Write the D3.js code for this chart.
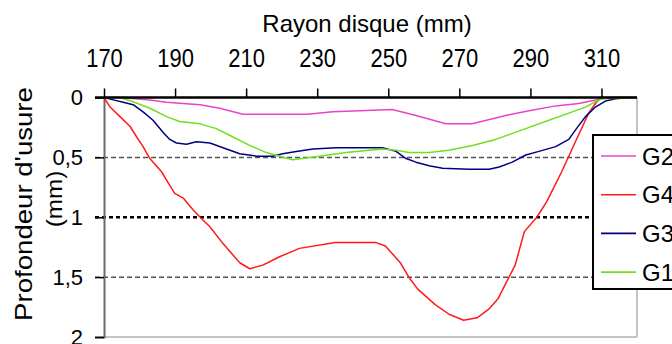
<!DOCTYPE html>
<html>
<head>
<meta charset="utf-8">
<script src="https://cdn.jsdelivr.net/npm/d3@7"></script>
<style>
  body { margin: 0; background: #fff; }
  svg { display: block; font-family: Arial, "Liberation Sans", sans-serif; }
</style>
</head>
<body>
<div id="chart"></div>
<script>
// DATA (rayon disque en mm, profondeur d'usure en mm)
const seriesNames = ["G2", "G4", "G3", "G1"];
const seriesColors = ["#e844c8", "#ff1a1a", "#000080", "#6ee01e"];

const g2 = [[170,0],[174.5,0],[182.9,0.02],[187.6,0.04],[197,0.06],[202.6,0.09],[209.1,0.14],
  [227.3,0.14],[234.3,0.12],[241.9,0.11],[251.1,0.10],[257.8,0.15],[266.2,0.22],[270,0.22],
  [273.6,0.22],[283.1,0.15],[289.6,0.11],[297.1,0.07],[303.6,0.05],[310.1,0.01],[312,0],[320,0]];

const g4 = [[170,0],[171.7,0.08],[174.5,0.16],[177.3,0.24],[179.2,0.33],[181,0.41],[182.9,0.51],
  [186.2,0.62],[187.6,0.69],[189.9,0.8],[192.3,0.84],[195.1,0.94],[197.4,1.01],[199.8,1.08],
  [203.5,1.22],[208.2,1.38],[211,1.43],[214.7,1.4],[219.4,1.33],[225,1.26],[235.1,1.21],
  [246.4,1.21],[249.2,1.24],[253.4,1.38],[256,1.51],[258.3,1.6],[263.2,1.73],[267.1,1.81],
  [271.2,1.86],[275,1.84],[278.2,1.77],[280.9,1.68],[283.8,1.51],[285.7,1.4],[288.3,1.12],
  [291.8,1.0],[294.6,0.87],[298.8,0.62],[303.9,0.29],[306.4,0.13],[308.3,0.05],[309.8,0],[320,0]];

const g3 = [[170,0],[172.6,0.02],[175.4,0.04],[178.2,0.06],[181,0.12],[183.8,0.19],[186.6,0.29],
  [188.5,0.35],[190.4,0.38],[193.2,0.39],[196,0.37],[199.8,0.38],[203.5,0.42],[208.2,0.47],
  [212.9,0.49],[217.5,0.49],[220.3,0.47],[224.1,0.45],[228.8,0.43],[235.3,0.42],[248.4,0.42],
  [252.2,0.45],[255,0.51],[257.8,0.54],[261.5,0.57],[265.3,0.59],[272.8,0.6],[278.4,0.6],
  [281.2,0.58],[284.9,0.54],[288.7,0.48],[292.4,0.45],[297.1,0.41],[300.8,0.35],[302.7,0.27],
  [305.5,0.16],[308.3,0.08],[311.1,0.03],[313.9,0.01],[318.2,0]];

const g1 = [[170,0],[174.5,0],[178.2,0.035],[182.9,0.09],[187.6,0.16],[191.3,0.2],[197,0.22],
  [201.6,0.26],[206.3,0.33],[211,0.4],[215.7,0.46],[219.4,0.49],[223.1,0.52],[230.6,0.49],
  [238.1,0.46],[248.4,0.43],[252.2,0.44],[255.9,0.46],[261.5,0.46],[267.1,0.44],[273.7,0.4],
  [280.2,0.35],[287.7,0.27],[295.2,0.19],[301.8,0.12],[305.5,0.08],[308.3,0.035],[310.2,0.01],[320,0]];

const seriesData = [g2, g4, g3, g1];
const xTicks = [170, 190, 210, 230, 250, 270, 290, 310];
const yTicks = [0, 0.5, 1, 1.5, 2];
const gridValues = [0.5, 1, 1.5];

// LAYOUT
const W = 672, H = 344;
const plotLeft = 104, plotRight = 637, plotTop = 97.5, plotBottom = 337;

const svg = d3.select("#chart").append("svg")
  .attr("width", W).attr("height", H);

const x = d3.scaleLinear().domain([170, 320]).range([plotLeft, plotRight]);
const y = d3.scaleLinear().domain([0, 2]).range([plotTop, plotBottom]);

// plot frame (light grey right / bottom)
svg.append("line").attr("x1", plotLeft).attr("x2", plotRight).attr("y1", plotBottom).attr("y2", plotBottom)
  .attr("stroke", "#c4c4c4").attr("stroke-width", 2);
svg.append("line").attr("x1", plotRight).attr("x2", plotRight).attr("y1", plotTop).attr("y2", plotBottom)
  .attr("stroke", "#c4c4c4").attr("stroke-width", 2);

// gridlines
svg.selectAll(".grid").data(gridValues).join("line")
  .attr("x1", 95).attr("x2", plotRight)
  .attr("y1", d => y(d)).attr("y2", d => y(d))
  .attr("stroke", d => d === 1 ? "#000" : "#555")
  .attr("stroke-width", d => d === 1 ? 2.5 : 1.5)
  .attr("stroke-dasharray", d => d === 1 ? "4,3" : "5,3");

// y axis
const yAxis = svg.append("g").attr("transform", `translate(${plotLeft},0)`)
  .call(d3.axisLeft(y).tickValues(yTicks).tickSize(9).tickPadding(12)
    .tickFormat(d => String(d).replace(".", ",")));
yAxis.select(".domain").attr("stroke", "#6a6a6a").attr("stroke-width", 2);
yAxis.selectAll(".tick line").attr("stroke", "#000").attr("stroke-width", 1.5);
yAxis.selectAll(".tick text").attr("font-size", 22).attr("fill", "#000")
  .attr("font-family", "Arial, 'Liberation Sans', sans-serif");

// series
const line = d3.line().x(d => x(d[0])).y(d => y(d[1]));
svg.selectAll(".serie").data(seriesData).join("path")
  .attr("d", line)
  .attr("fill", "none")
  .attr("stroke", (d, i) => seriesColors[i])
  .attr("stroke-width", 1.5)
  .attr("stroke-linejoin", "round");

// x axis on top
const xAxis = svg.append("g").attr("transform", `translate(0,${plotTop})`)
  .call(d3.axisTop(x).tickValues(xTicks).tickSize(9).tickSizeOuter(0).tickPadding(12));
xAxis.select(".domain").attr("d", `M95,0H${plotRight}`).attr("stroke", "#000").attr("stroke-width", 2.5);
xAxis.selectAll(".tick line").attr("stroke", "#000").attr("stroke-width", 1.5);
xAxis.selectAll(".tick text")
  .attr("font-size", 22).attr("fill", "#000")
  .attr("font-family", "Arial, 'Liberation Sans', sans-serif")
  .attr("y", 0).attr("dy", 0)
  .attr("transform", "translate(0,-31) scale(1,1.2)");

// titles
svg.append("text").attr("x", 367).attr("y", 31.5)
  .attr("text-anchor", "middle").attr("font-size", 24)
  .text("Rayon disque (mm)");

svg.append("text")
  .attr("transform", "translate(32,204) rotate(-90) scale(1.2,1)")
  .attr("text-anchor", "middle").attr("font-size", 23)
  .text("Profondeur d'usure");
svg.append("text")
  .attr("transform", "translate(62,199) rotate(-90) scale(1.1,1)")
  .attr("text-anchor", "middle").attr("font-size", 22)
  .text("(mm)");

// legend
const legend = svg.append("g");
legend.append("rect").attr("x", 593).attr("y", 135).attr("width", 100).attr("height", 154)
  .attr("fill", "#fff").attr("stroke", "#000").attr("stroke-width", 2);
const item = legend.selectAll(".item").data(seriesNames).join("g")
  .attr("transform", (d, i) => `translate(0,${156 + i * 38.7})`);
item.append("line").attr("x1", 601).attr("x2", 636)
  .attr("stroke", (d, i) => seriesColors[i]).attr("stroke-width", 1.6);
item.append("text").attr("x", 642).attr("dy", "0.36em").attr("font-size", 24)
  .text(d => d);
</script>
</body>
</html>
